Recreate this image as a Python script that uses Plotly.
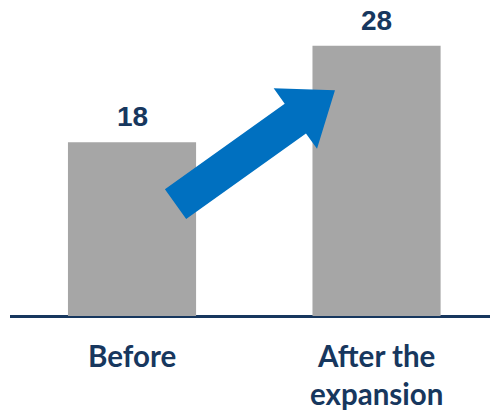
import numpy as np
import plotly.graph_objects as go

categories = ["Before", "After the<br>expansion"]
values = [18, 28]
value_labels = ["18", "28"]

# arrow start/end in data units (x: category index, y: value)
arrow_start = (0.178, 11.6)
arrow_end = (0.830, 23.4)

NAVY = "#17375E"
GRAY = "#A6A6A6"
BLUE = "#0070C0"

W, H = 490, 413
ML, MR, MT, MB = 10, 0, 0, 97
XR = [-0.499, 1.464]
YR = [0, 32.75]
PW, PH = W - ML - MR, H - MT - MB

def to_px(x, y):
    return ((x - XR[0]) / (XR[1] - XR[0]) * PW, (y - YR[0]) / (YR[1] - YR[0]) * PH)

def to_data(px, py):
    return (XR[0] + px / PW * (XR[1] - XR[0]), YR[0] + py / PH * (YR[1] - YR[0]))

# build arrow polygon in pixel space (y up)
p0 = np.array(to_px(*arrow_start))
p1 = np.array(to_px(*arrow_end))
d = p1 - p0
L = np.linalg.norm(d)
u = d / L
n = np.array([-u[1], u[0]])
shaft_w, head_w, head_l = 36.6, 74.6, 48.7
base = p1 - u * head_l
pts = [
    p0 + n * shaft_w / 2,
    base + n * shaft_w / 2,
    base + n * head_w / 2,
    p1,
    base - n * head_w / 2,
    base - n * shaft_w / 2,
    p0 - n * shaft_w / 2,
]
dpts = [to_data(*p) for p in pts]
path = "M " + " L ".join(f"{x:.4f},{y:.4f}" for x, y in dpts) + " Z"

fig = go.Figure()
fig.add_trace(go.Bar(
    x=[0, 1], y=values, width=0.524,
    marker=dict(color=GRAY, line=dict(width=0)),
    cliponaxis=False, hoverinfo="skip",
))
fig.add_shape(type="path", path=path, xref="x", yref="y",
              fillcolor=BLUE, line=dict(width=0), layer="above")

for i, (v, t) in enumerate(zip(values, value_labels)):
    fig.add_annotation(x=i, y=v, xref="x", yref="y", text=t, showarrow=False,
                       yanchor="bottom", yshift=9, borderpad=0,
                       font=dict(family="Liberation Sans, Arial, sans-serif", size=28,
                                 color=NAVY, weight="bold"))

for i, c in enumerate(categories):
    fig.add_annotation(x=i, y=0, xref="x", yref="y", text=c, showarrow=False,
                       yanchor="top", yshift=-20,
                       font=dict(family="Lato, Open Sans, sans-serif", size=29.5, color=NAVY, weight="bold"))

fig.update_layout(
    width=W, height=H, margin=dict(l=ML, r=MR, t=MT, b=MB, autoexpand=False),
    paper_bgcolor="white", plot_bgcolor="white", showlegend=False,
    font=dict(family="Lato, sans-serif", color=NAVY),
)
fig.update_xaxes(range=XR, showticklabels=False, showgrid=False, zeroline=False,
                 showline=False, ticks="")
fig.update_yaxes(range=YR, showticklabels=False, showgrid=False, zeroline=True,
                 zerolinecolor=NAVY, zerolinewidth=2.5, showline=False)
fig.write_html("out.html", config={"displayModeBar": False},
               post_script="document.body.style.margin='0';")
